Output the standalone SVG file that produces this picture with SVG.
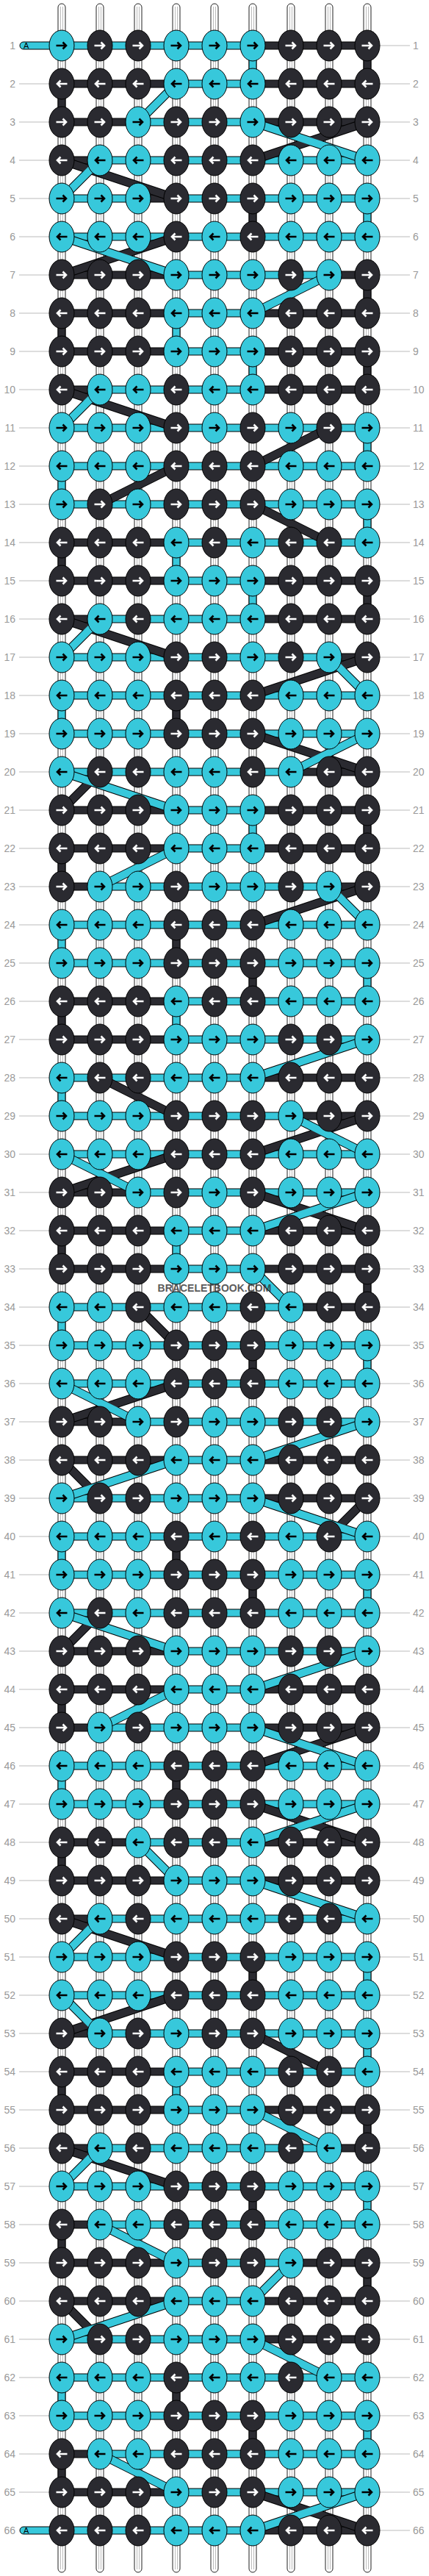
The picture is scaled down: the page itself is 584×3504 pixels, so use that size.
<svg xmlns="http://www.w3.org/2000/svg" width="584" height="3504" viewBox="0 0 584 3504">
<style>
.C{fill:#37c8db;stroke:#000;stroke-width:1}
.D{fill:#2a2a30;stroke:#000;stroke-width:1}
.ak{fill:none;stroke:#000;stroke-width:2.6}
.aw{fill:none;stroke:#fff;stroke-width:2.6}
.s{fill:#fff;stroke:#222;stroke-width:1}
.si{fill:none;stroke:#bbb;stroke-width:1}
.gl{fill:none;stroke:#bbb;stroke-width:1}
text{font-family:"Liberation Sans",Arial,sans-serif}
.lb text{font-size:14px;fill:#999}
.lb .e{text-anchor:end}
.ol{fill:none;stroke:#000;stroke-width:12}
.lC{fill:none;stroke:#37c8db;stroke-width:10}
.lD{fill:none;stroke:#2a2a30;stroke-width:10}
.ta{font-size:11px;fill:#000}
.wm{font-size:14px;font-weight:bold;fill:#333;opacity:.8;text-anchor:middle}
</style>
<defs>
<g id="CR"><ellipse rx="17" ry="21" class="C"/><path class="ak" d="M-7.5 0H6M1.5-4.5L6 0 1.5 4.5"/></g>
<g id="CL"><ellipse rx="17" ry="21" class="C"/><path class="ak" d="M7.5 0H-6M-1.5-4.5L-6 0-1.5 4.5"/></g>
<g id="DR"><ellipse rx="17" ry="21" class="D"/><path class="aw" d="M-7.5 0H6M1.5-4.5L6 0 1.5 4.5"/></g>
<g id="DL"><ellipse rx="17" ry="21" class="D"/><path class="aw" d="M7.5 0H-6M-1.5-4.5L-6 0-1.5 4.5"/></g>
</defs>
<rect width="584" height="3504" fill="#fff"/>
<g id="labels" class="lb">
<g transform="translate(0,62)"><path class="gl" d="M517 0h41"/><text x="21" y="5" class="e">1</text><text x="562" y="5">1</text></g>
<g transform="translate(0,114)"><path class="gl" d="M26 0h41M517 0h41"/><text x="21" y="5" class="e">2</text><text x="562" y="5">2</text></g>
<g transform="translate(0,166)"><path class="gl" d="M26 0h41M517 0h41"/><text x="21" y="5" class="e">3</text><text x="562" y="5">3</text></g>
<g transform="translate(0,218)"><path class="gl" d="M26 0h41M517 0h41"/><text x="21" y="5" class="e">4</text><text x="562" y="5">4</text></g>
<g transform="translate(0,270)"><path class="gl" d="M26 0h41M517 0h41"/><text x="21" y="5" class="e">5</text><text x="562" y="5">5</text></g>
<g transform="translate(0,322)"><path class="gl" d="M26 0h41M517 0h41"/><text x="21" y="5" class="e">6</text><text x="562" y="5">6</text></g>
<g transform="translate(0,374)"><path class="gl" d="M26 0h41M517 0h41"/><text x="21" y="5" class="e">7</text><text x="562" y="5">7</text></g>
<g transform="translate(0,426)"><path class="gl" d="M26 0h41M517 0h41"/><text x="21" y="5" class="e">8</text><text x="562" y="5">8</text></g>
<g transform="translate(0,478)"><path class="gl" d="M26 0h41M517 0h41"/><text x="21" y="5" class="e">9</text><text x="562" y="5">9</text></g>
<g transform="translate(0,530)"><path class="gl" d="M26 0h41M517 0h41"/><text x="21" y="5" class="e">10</text><text x="562" y="5">10</text></g>
<g transform="translate(0,582)"><path class="gl" d="M26 0h41M517 0h41"/><text x="21" y="5" class="e">11</text><text x="562" y="5">11</text></g>
<g transform="translate(0,634)"><path class="gl" d="M26 0h41M517 0h41"/><text x="21" y="5" class="e">12</text><text x="562" y="5">12</text></g>
<g transform="translate(0,686)"><path class="gl" d="M26 0h41M517 0h41"/><text x="21" y="5" class="e">13</text><text x="562" y="5">13</text></g>
<g transform="translate(0,738)"><path class="gl" d="M26 0h41M517 0h41"/><text x="21" y="5" class="e">14</text><text x="562" y="5">14</text></g>
<g transform="translate(0,790)"><path class="gl" d="M26 0h41M517 0h41"/><text x="21" y="5" class="e">15</text><text x="562" y="5">15</text></g>
<g transform="translate(0,842)"><path class="gl" d="M26 0h41M517 0h41"/><text x="21" y="5" class="e">16</text><text x="562" y="5">16</text></g>
<g transform="translate(0,894)"><path class="gl" d="M26 0h41M517 0h41"/><text x="21" y="5" class="e">17</text><text x="562" y="5">17</text></g>
<g transform="translate(0,946)"><path class="gl" d="M26 0h41M517 0h41"/><text x="21" y="5" class="e">18</text><text x="562" y="5">18</text></g>
<g transform="translate(0,998)"><path class="gl" d="M26 0h41M517 0h41"/><text x="21" y="5" class="e">19</text><text x="562" y="5">19</text></g>
<g transform="translate(0,1050)"><path class="gl" d="M26 0h41M517 0h41"/><text x="21" y="5" class="e">20</text><text x="562" y="5">20</text></g>
<g transform="translate(0,1102)"><path class="gl" d="M26 0h41M517 0h41"/><text x="21" y="5" class="e">21</text><text x="562" y="5">21</text></g>
<g transform="translate(0,1154)"><path class="gl" d="M26 0h41M517 0h41"/><text x="21" y="5" class="e">22</text><text x="562" y="5">22</text></g>
<g transform="translate(0,1206)"><path class="gl" d="M26 0h41M517 0h41"/><text x="21" y="5" class="e">23</text><text x="562" y="5">23</text></g>
<g transform="translate(0,1258)"><path class="gl" d="M26 0h41M517 0h41"/><text x="21" y="5" class="e">24</text><text x="562" y="5">24</text></g>
<g transform="translate(0,1310)"><path class="gl" d="M26 0h41M517 0h41"/><text x="21" y="5" class="e">25</text><text x="562" y="5">25</text></g>
<g transform="translate(0,1362)"><path class="gl" d="M26 0h41M517 0h41"/><text x="21" y="5" class="e">26</text><text x="562" y="5">26</text></g>
<g transform="translate(0,1414)"><path class="gl" d="M26 0h41M517 0h41"/><text x="21" y="5" class="e">27</text><text x="562" y="5">27</text></g>
<g transform="translate(0,1466)"><path class="gl" d="M26 0h41M517 0h41"/><text x="21" y="5" class="e">28</text><text x="562" y="5">28</text></g>
<g transform="translate(0,1518)"><path class="gl" d="M26 0h41M517 0h41"/><text x="21" y="5" class="e">29</text><text x="562" y="5">29</text></g>
<g transform="translate(0,1570)"><path class="gl" d="M26 0h41M517 0h41"/><text x="21" y="5" class="e">30</text><text x="562" y="5">30</text></g>
<g transform="translate(0,1622)"><path class="gl" d="M26 0h41M517 0h41"/><text x="21" y="5" class="e">31</text><text x="562" y="5">31</text></g>
<g transform="translate(0,1674)"><path class="gl" d="M26 0h41M517 0h41"/><text x="21" y="5" class="e">32</text><text x="562" y="5">32</text></g>
<g transform="translate(0,1726)"><path class="gl" d="M26 0h41M517 0h41"/><text x="21" y="5" class="e">33</text><text x="562" y="5">33</text></g>
<g transform="translate(0,1778)"><path class="gl" d="M26 0h41M517 0h41"/><text x="21" y="5" class="e">34</text><text x="562" y="5">34</text></g>
<g transform="translate(0,1830)"><path class="gl" d="M26 0h41M517 0h41"/><text x="21" y="5" class="e">35</text><text x="562" y="5">35</text></g>
<g transform="translate(0,1882)"><path class="gl" d="M26 0h41M517 0h41"/><text x="21" y="5" class="e">36</text><text x="562" y="5">36</text></g>
<g transform="translate(0,1934)"><path class="gl" d="M26 0h41M517 0h41"/><text x="21" y="5" class="e">37</text><text x="562" y="5">37</text></g>
<g transform="translate(0,1986)"><path class="gl" d="M26 0h41M517 0h41"/><text x="21" y="5" class="e">38</text><text x="562" y="5">38</text></g>
<g transform="translate(0,2038)"><path class="gl" d="M26 0h41M517 0h41"/><text x="21" y="5" class="e">39</text><text x="562" y="5">39</text></g>
<g transform="translate(0,2090)"><path class="gl" d="M26 0h41M517 0h41"/><text x="21" y="5" class="e">40</text><text x="562" y="5">40</text></g>
<g transform="translate(0,2142)"><path class="gl" d="M26 0h41M517 0h41"/><text x="21" y="5" class="e">41</text><text x="562" y="5">41</text></g>
<g transform="translate(0,2194)"><path class="gl" d="M26 0h41M517 0h41"/><text x="21" y="5" class="e">42</text><text x="562" y="5">42</text></g>
<g transform="translate(0,2246)"><path class="gl" d="M26 0h41M517 0h41"/><text x="21" y="5" class="e">43</text><text x="562" y="5">43</text></g>
<g transform="translate(0,2298)"><path class="gl" d="M26 0h41M517 0h41"/><text x="21" y="5" class="e">44</text><text x="562" y="5">44</text></g>
<g transform="translate(0,2350)"><path class="gl" d="M26 0h41M517 0h41"/><text x="21" y="5" class="e">45</text><text x="562" y="5">45</text></g>
<g transform="translate(0,2402)"><path class="gl" d="M26 0h41M517 0h41"/><text x="21" y="5" class="e">46</text><text x="562" y="5">46</text></g>
<g transform="translate(0,2454)"><path class="gl" d="M26 0h41M517 0h41"/><text x="21" y="5" class="e">47</text><text x="562" y="5">47</text></g>
<g transform="translate(0,2506)"><path class="gl" d="M26 0h41M517 0h41"/><text x="21" y="5" class="e">48</text><text x="562" y="5">48</text></g>
<g transform="translate(0,2558)"><path class="gl" d="M26 0h41M517 0h41"/><text x="21" y="5" class="e">49</text><text x="562" y="5">49</text></g>
<g transform="translate(0,2610)"><path class="gl" d="M26 0h41M517 0h41"/><text x="21" y="5" class="e">50</text><text x="562" y="5">50</text></g>
<g transform="translate(0,2662)"><path class="gl" d="M26 0h41M517 0h41"/><text x="21" y="5" class="e">51</text><text x="562" y="5">51</text></g>
<g transform="translate(0,2714)"><path class="gl" d="M26 0h41M517 0h41"/><text x="21" y="5" class="e">52</text><text x="562" y="5">52</text></g>
<g transform="translate(0,2766)"><path class="gl" d="M26 0h41M517 0h41"/><text x="21" y="5" class="e">53</text><text x="562" y="5">53</text></g>
<g transform="translate(0,2818)"><path class="gl" d="M26 0h41M517 0h41"/><text x="21" y="5" class="e">54</text><text x="562" y="5">54</text></g>
<g transform="translate(0,2870)"><path class="gl" d="M26 0h41M517 0h41"/><text x="21" y="5" class="e">55</text><text x="562" y="5">55</text></g>
<g transform="translate(0,2922)"><path class="gl" d="M26 0h41M517 0h41"/><text x="21" y="5" class="e">56</text><text x="562" y="5">56</text></g>
<g transform="translate(0,2974)"><path class="gl" d="M26 0h41M517 0h41"/><text x="21" y="5" class="e">57</text><text x="562" y="5">57</text></g>
<g transform="translate(0,3026)"><path class="gl" d="M26 0h41M517 0h41"/><text x="21" y="5" class="e">58</text><text x="562" y="5">58</text></g>
<g transform="translate(0,3078)"><path class="gl" d="M26 0h41M517 0h41"/><text x="21" y="5" class="e">59</text><text x="562" y="5">59</text></g>
<g transform="translate(0,3130)"><path class="gl" d="M26 0h41M517 0h41"/><text x="21" y="5" class="e">60</text><text x="562" y="5">60</text></g>
<g transform="translate(0,3182)"><path class="gl" d="M26 0h41M517 0h41"/><text x="21" y="5" class="e">61</text><text x="562" y="5">61</text></g>
<g transform="translate(0,3234)"><path class="gl" d="M26 0h41M517 0h41"/><text x="21" y="5" class="e">62</text><text x="562" y="5">62</text></g>
<g transform="translate(0,3286)"><path class="gl" d="M26 0h41M517 0h41"/><text x="21" y="5" class="e">63</text><text x="562" y="5">63</text></g>
<g transform="translate(0,3338)"><path class="gl" d="M26 0h41M517 0h41"/><text x="21" y="5" class="e">64</text><text x="562" y="5">64</text></g>
<g transform="translate(0,3390)"><path class="gl" d="M26 0h41M517 0h41"/><text x="21" y="5" class="e">65</text><text x="562" y="5">65</text></g>
<g transform="translate(0,3442)"><path class="gl" d="M517 0h41"/><text x="21" y="5" class="e">66</text><text x="562" y="5">66</text></g>
</g>
<g id="strings">
<rect class="s" x="79" y="5" width="10" height="3494" rx="5"/><rect class="s" x="131" y="5" width="10" height="3494" rx="5"/><rect class="s" x="183" y="5" width="10" height="3494" rx="5"/><rect class="s" x="235" y="5" width="10" height="3494" rx="5"/><rect class="s" x="287" y="5" width="10" height="3494" rx="5"/><rect class="s" x="339" y="5" width="10" height="3494" rx="5"/><rect class="s" x="391" y="5" width="10" height="3494" rx="5"/><rect class="s" x="443" y="5" width="10" height="3494" rx="5"/><rect class="s" x="495" y="5" width="10" height="3494" rx="5"/>
<path class="si" d="M82.5 9V3495M85.5 9V3495M134.5 9V3495M137.5 9V3495M186.5 9V3495M189.5 9V3495M238.5 9V3495M241.5 9V3495M290.5 9V3495M293.5 9V3495M342.5 9V3495M345.5 9V3495M394.5 9V3495M397.5 9V3495M446.5 9V3495M449.5 9V3495M498.5 9V3495M501.5 9V3495"/>
</g>
<g id="connectors">
<g id="tails">
<rect class="C" x="27" y="57" width="62" height="10" rx="5"/><text class="ta" x="32" y="66">A</text>
<rect class="C" x="27" y="3437" width="62" height="10" rx="5"/><text class="ta" x="32" y="3446">A</text>
</g>
<g id="bars">
<g transform="translate(0,62)"><rect class="C" x="84" y="-5" width="260" height="10"/><rect class="D" x="344" y="-5" width="156" height="10"/></g>
<g transform="translate(0,114)"><rect class="D" x="84" y="-5" width="156" height="10"/><rect class="C" x="240" y="-5" width="104" height="10"/><rect class="D" x="344" y="-5" width="156" height="10"/></g>
<g transform="translate(0,166)"><rect class="D" x="84" y="-5" width="104" height="10"/><rect class="C" x="188" y="-5" width="156" height="10"/><rect class="D" x="344" y="-5" width="156" height="10"/></g>
<g transform="translate(0,218)"><rect class="D" x="84" y="-5" width="52" height="10"/><rect class="C" x="136" y="-5" width="364" height="10"/></g>
<g transform="translate(0,270)"><rect class="C" x="84" y="-5" width="104" height="10"/><rect class="D" x="188" y="-5" width="52" height="10"/><rect class="C" x="240" y="-5" width="260" height="10"/></g>
<g transform="translate(0,322)"><rect class="C" x="84" y="-5" width="416" height="10"/></g>
<g transform="translate(0,374)"><rect class="D" x="84" y="-5" width="156" height="10"/><rect class="C" x="240" y="-5" width="208" height="10"/><rect class="D" x="448" y="-5" width="52" height="10"/></g>
<g transform="translate(0,426)"><rect class="D" x="84" y="-5" width="156" height="10"/><rect class="C" x="240" y="-5" width="104" height="10"/><rect class="D" x="344" y="-5" width="156" height="10"/></g>
<g transform="translate(0,478)"><rect class="D" x="84" y="-5" width="156" height="10"/><rect class="C" x="240" y="-5" width="104" height="10"/><rect class="D" x="344" y="-5" width="156" height="10"/></g>
<g transform="translate(0,530)"><rect class="D" x="84" y="-5" width="52" height="10"/><rect class="C" x="136" y="-5" width="208" height="10"/><rect class="D" x="344" y="-5" width="156" height="10"/></g>
<g transform="translate(0,582)"><rect class="C" x="84" y="-5" width="416" height="10"/></g>
<g transform="translate(0,634)"><rect class="C" x="84" y="-5" width="416" height="10"/></g>
<g transform="translate(0,686)"><rect class="C" x="84" y="-5" width="416" height="10"/></g>
<g transform="translate(0,738)"><rect class="D" x="84" y="-5" width="156" height="10"/><rect class="C" x="240" y="-5" width="260" height="10"/></g>
<g transform="translate(0,790)"><rect class="D" x="84" y="-5" width="156" height="10"/><rect class="C" x="240" y="-5" width="104" height="10"/><rect class="D" x="344" y="-5" width="156" height="10"/></g>
<g transform="translate(0,842)"><rect class="D" x="84" y="-5" width="52" height="10"/><rect class="C" x="136" y="-5" width="208" height="10"/><rect class="D" x="344" y="-5" width="156" height="10"/></g>
<g transform="translate(0,894)"><rect class="C" x="84" y="-5" width="364" height="10"/><rect class="D" x="448" y="-5" width="52" height="10"/></g>
<g transform="translate(0,946)"><rect class="C" x="84" y="-5" width="416" height="10"/></g>
<g transform="translate(0,998)"><rect class="C" x="84" y="-5" width="416" height="10"/></g>
<g transform="translate(0,1050)"><rect class="C" x="84" y="-5" width="312" height="10"/><rect class="D" x="396" y="-5" width="104" height="10"/></g>
<g transform="translate(0,1102)"><rect class="D" x="84" y="-5" width="156" height="10"/><rect class="C" x="240" y="-5" width="104" height="10"/><rect class="D" x="344" y="-5" width="156" height="10"/></g>
<g transform="translate(0,1154)"><rect class="D" x="84" y="-5" width="156" height="10"/><rect class="C" x="240" y="-5" width="104" height="10"/><rect class="D" x="344" y="-5" width="156" height="10"/></g>
<g transform="translate(0,1206)"><rect class="D" x="84" y="-5" width="52" height="10"/><rect class="C" x="136" y="-5" width="312" height="10"/><rect class="D" x="448" y="-5" width="52" height="10"/></g>
<g transform="translate(0,1258)"><rect class="C" x="84" y="-5" width="416" height="10"/></g>
<g transform="translate(0,1310)"><rect class="C" x="84" y="-5" width="416" height="10"/></g>
<g transform="translate(0,1362)"><rect class="D" x="84" y="-5" width="156" height="10"/><rect class="C" x="240" y="-5" width="260" height="10"/></g>
<g transform="translate(0,1414)"><rect class="D" x="84" y="-5" width="156" height="10"/><rect class="C" x="240" y="-5" width="260" height="10"/></g>
<g transform="translate(0,1466)"><rect class="C" x="84" y="-5" width="260" height="10"/><rect class="D" x="344" y="-5" width="156" height="10"/></g>
<g transform="translate(0,1518)"><rect class="C" x="84" y="-5" width="312" height="10"/><rect class="D" x="396" y="-5" width="104" height="10"/></g>
<g transform="translate(0,1570)"><rect class="C" x="84" y="-5" width="416" height="10"/></g>
<g transform="translate(0,1622)"><rect class="D" x="84" y="-5" width="104" height="10"/><rect class="C" x="188" y="-5" width="312" height="10"/></g>
<g transform="translate(0,1674)"><rect class="D" x="84" y="-5" width="156" height="10"/><rect class="C" x="240" y="-5" width="104" height="10"/><rect class="D" x="344" y="-5" width="156" height="10"/></g>
<g transform="translate(0,1726)"><rect class="D" x="84" y="-5" width="156" height="10"/><rect class="C" x="240" y="-5" width="104" height="10"/><rect class="D" x="344" y="-5" width="156" height="10"/></g>
<g transform="translate(0,1778)"><rect class="C" x="84" y="-5" width="312" height="10"/><rect class="D" x="396" y="-5" width="104" height="10"/></g>
<g transform="translate(0,1830)"><rect class="C" x="84" y="-5" width="416" height="10"/></g>
<g transform="translate(0,1882)"><rect class="C" x="84" y="-5" width="416" height="10"/></g>
<g transform="translate(0,1934)"><rect class="D" x="84" y="-5" width="104" height="10"/><rect class="C" x="188" y="-5" width="312" height="10"/></g>
<g transform="translate(0,1986)"><rect class="D" x="84" y="-5" width="156" height="10"/><rect class="C" x="240" y="-5" width="104" height="10"/><rect class="D" x="344" y="-5" width="156" height="10"/></g>
<g transform="translate(0,2038)"><rect class="C" x="84" y="-5" width="260" height="10"/><rect class="D" x="344" y="-5" width="156" height="10"/></g>
<g transform="translate(0,2090)"><rect class="C" x="84" y="-5" width="416" height="10"/></g>
<g transform="translate(0,2142)"><rect class="C" x="84" y="-5" width="416" height="10"/></g>
<g transform="translate(0,2194)"><rect class="C" x="84" y="-5" width="416" height="10"/></g>
<g transform="translate(0,2246)"><rect class="D" x="84" y="-5" width="156" height="10"/><rect class="C" x="240" y="-5" width="260" height="10"/></g>
<g transform="translate(0,2298)"><rect class="D" x="84" y="-5" width="156" height="10"/><rect class="C" x="240" y="-5" width="104" height="10"/><rect class="D" x="344" y="-5" width="156" height="10"/></g>
<g transform="translate(0,2350)"><rect class="D" x="84" y="-5" width="52" height="10"/><rect class="C" x="136" y="-5" width="208" height="10"/><rect class="D" x="344" y="-5" width="156" height="10"/></g>
<g transform="translate(0,2402)"><rect class="C" x="84" y="-5" width="416" height="10"/></g>
<g transform="translate(0,2454)"><rect class="C" x="84" y="-5" width="416" height="10"/></g>
<g transform="translate(0,2506)"><rect class="D" x="84" y="-5" width="104" height="10"/><rect class="C" x="188" y="-5" width="156" height="10"/><rect class="D" x="344" y="-5" width="156" height="10"/></g>
<g transform="translate(0,2558)"><rect class="D" x="84" y="-5" width="156" height="10"/><rect class="C" x="240" y="-5" width="104" height="10"/><rect class="D" x="344" y="-5" width="156" height="10"/></g>
<g transform="translate(0,2610)"><rect class="D" x="84" y="-5" width="52" height="10"/><rect class="C" x="136" y="-5" width="364" height="10"/></g>
<g transform="translate(0,2662)"><rect class="C" x="84" y="-5" width="416" height="10"/></g>
<g transform="translate(0,2714)"><rect class="C" x="84" y="-5" width="416" height="10"/></g>
<g transform="translate(0,2766)"><rect class="D" x="84" y="-5" width="52" height="10"/><rect class="C" x="136" y="-5" width="364" height="10"/></g>
<g transform="translate(0,2818)"><rect class="D" x="84" y="-5" width="156" height="10"/><rect class="C" x="240" y="-5" width="260" height="10"/></g>
<g transform="translate(0,2870)"><rect class="D" x="84" y="-5" width="156" height="10"/><rect class="C" x="240" y="-5" width="104" height="10"/><rect class="D" x="344" y="-5" width="156" height="10"/></g>
<g transform="translate(0,2922)"><rect class="D" x="84" y="-5" width="52" height="10"/><rect class="C" x="136" y="-5" width="312" height="10"/><rect class="D" x="448" y="-5" width="52" height="10"/></g>
<g transform="translate(0,2974)"><rect class="C" x="84" y="-5" width="416" height="10"/></g>
<g transform="translate(0,3026)"><rect class="D" x="84" y="-5" width="52" height="10"/><rect class="C" x="136" y="-5" width="364" height="10"/></g>
<g transform="translate(0,3078)"><rect class="D" x="84" y="-5" width="156" height="10"/><rect class="C" x="240" y="-5" width="156" height="10"/><rect class="D" x="396" y="-5" width="104" height="10"/></g>
<g transform="translate(0,3130)"><rect class="D" x="84" y="-5" width="156" height="10"/><rect class="C" x="240" y="-5" width="104" height="10"/><rect class="D" x="344" y="-5" width="156" height="10"/></g>
<g transform="translate(0,3182)"><rect class="C" x="84" y="-5" width="260" height="10"/><rect class="D" x="344" y="-5" width="156" height="10"/></g>
<g transform="translate(0,3234)"><rect class="C" x="84" y="-5" width="416" height="10"/></g>
<g transform="translate(0,3286)"><rect class="C" x="84" y="-5" width="416" height="10"/></g>
<g transform="translate(0,3338)"><rect class="D" x="84" y="-5" width="52" height="10"/><rect class="C" x="136" y="-5" width="364" height="10"/></g>
<g transform="translate(0,3390)"><rect class="D" x="84" y="-5" width="156" height="10"/><rect class="C" x="240" y="-5" width="260" height="10"/></g>
<g transform="translate(0,3442)"><rect class="C" x="84" y="-5" width="260" height="10"/><rect class="D" x="344" y="-5" width="156" height="10"/></g>
</g>
<g id="verticals">
<rect class="C" x="339" y="62" width="10" height="52"/><rect class="D" x="339" y="270" width="10" height="52"/><rect class="C" x="235" y="426" width="10" height="52"/><rect class="C" x="339" y="478" width="10" height="52"/><rect class="C" x="235" y="738" width="10" height="52"/><rect class="C" x="339" y="790" width="10" height="52"/><rect class="D" x="235" y="946" width="10" height="52"/><rect class="C" x="339" y="1102" width="10" height="52"/><rect class="D" x="235" y="1258" width="10" height="52"/><rect class="D" x="339" y="1310" width="10" height="52"/><rect class="C" x="235" y="1362" width="10" height="52"/><rect class="C" x="235" y="1674" width="10" height="52"/><rect class="D" x="339" y="1830" width="10" height="52"/><rect class="D" x="235" y="2090" width="10" height="52"/><rect class="D" x="339" y="2142" width="10" height="52"/><rect class="D" x="235" y="2402" width="10" height="52"/><rect class="D" x="339" y="2662" width="10" height="52"/><rect class="C" x="235" y="2818" width="10" height="52"/><rect class="D" x="339" y="2974" width="10" height="52"/><rect class="D" x="235" y="3234" width="10" height="52"/><rect class="D" x="339" y="3286" width="10" height="52"/>
<rect class="D" x="495" y="62" width="10" height="52"/><rect class="C" x="495" y="270" width="10" height="52"/><rect class="D" x="495" y="374" width="10" height="52"/><rect class="D" x="495" y="478" width="10" height="52"/><rect class="C" x="495" y="582" width="10" height="52"/><rect class="C" x="495" y="686" width="10" height="52"/><rect class="D" x="495" y="790" width="10" height="52"/><rect class="D" x="495" y="1102" width="10" height="52"/><rect class="C" x="495" y="1310" width="10" height="52"/><rect class="D" x="495" y="1726" width="10" height="52"/><rect class="C" x="495" y="1830" width="10" height="52"/><rect class="C" x="495" y="2142" width="10" height="52"/><rect class="C" x="495" y="2662" width="10" height="52"/><rect class="C" x="495" y="2766" width="10" height="52"/><rect class="D" x="495" y="2870" width="10" height="52"/><rect class="C" x="495" y="2974" width="10" height="52"/><rect class="D" x="495" y="3078" width="10" height="52"/><rect class="C" x="495" y="3286" width="10" height="52"/>
<rect class="D" x="79" y="114" width="10" height="52"/><rect class="D" x="79" y="426" width="10" height="52"/><rect class="C" x="79" y="634" width="10" height="52"/><rect class="D" x="79" y="738" width="10" height="52"/><rect class="C" x="79" y="946" width="10" height="52"/><rect class="D" x="79" y="1154" width="10" height="52"/><rect class="C" x="79" y="1258" width="10" height="52"/><rect class="D" x="79" y="1362" width="10" height="52"/><rect class="C" x="79" y="1466" width="10" height="52"/><rect class="D" x="79" y="1674" width="10" height="52"/><rect class="C" x="79" y="1778" width="10" height="52"/><rect class="C" x="79" y="2090" width="10" height="52"/><rect class="D" x="79" y="2298" width="10" height="52"/><rect class="C" x="79" y="2402" width="10" height="52"/><rect class="D" x="79" y="2506" width="10" height="52"/><rect class="D" x="79" y="2818" width="10" height="52"/><rect class="D" x="79" y="3026" width="10" height="52"/><rect class="C" x="79" y="3234" width="10" height="52"/><rect class="D" x="79" y="3338" width="10" height="52"/>
</g>
<g id="diagonals">
<use href="#dD" class="ol"/><use href="#dC" class="ol"/>
<g class="lD"><g id="dD">
<path d="M344 218L500 166"/><path d="M84 218L240 270"/><path d="M84 374L240 322"/><path d="M84 530L240 582"/><path d="M344 634L448 582"/><path d="M240 634L136 686"/><path d="M344 686L448 738"/><path d="M84 842L240 894"/><path d="M344 946L500 894"/><path d="M344 998L500 1050"/><path d="M136 1050L84 1102"/><path d="M344 1258L500 1206"/><path d="M136 1466L240 1518"/><path d="M344 1570L500 1518"/><path d="M84 1622L240 1570"/><path d="M344 1622L500 1674"/><path d="M188 1778L240 1830"/><path d="M84 1934L240 1882"/><path d="M84 1986L136 2038"/><path d="M448 2090L500 2038"/><path d="M136 2194L84 2246"/><path d="M344 2402L500 2350"/><path d="M344 2454L500 2506"/><path d="M84 2610L240 2662"/><path d="M84 2766L240 2714"/><path d="M344 2766L448 2818"/><path d="M84 2922L240 2974"/><path d="M84 3130L136 3182"/><path d="M344 3390L500 3442"/>
</g></g>
<g class="lC"><g id="dC">
<path d="M240 114L188 166"/><path d="M344 166L500 218"/><path d="M136 218L84 270"/><path d="M84 322L240 374"/><path d="M448 374L344 426"/><path d="M136 530L84 582"/><path d="M136 842L84 894"/><path d="M448 894L500 946"/><path d="M396 1050L500 998"/><path d="M84 1050L240 1102"/><path d="M240 1154L136 1206"/><path d="M448 1206L500 1258"/><path d="M344 1466L500 1414"/><path d="M396 1518L500 1570"/><path d="M84 1570L188 1622"/><path d="M344 1674L500 1622"/><path d="M344 1726L396 1778"/><path d="M84 1882L188 1934"/><path d="M344 1986L500 1934"/><path d="M240 1986L84 2038"/><path d="M344 2038L500 2090"/><path d="M84 2194L240 2246"/><path d="M344 2298L500 2246"/><path d="M240 2298L136 2350"/><path d="M344 2350L500 2402"/><path d="M344 2506L500 2454"/><path d="M188 2506L240 2558"/><path d="M344 2558L500 2610"/><path d="M136 2610L84 2662"/><path d="M84 2714L136 2766"/><path d="M344 2870L448 2922"/><path d="M136 2922L84 2974"/><path d="M136 3026L240 3078"/><path d="M396 3078L344 3130"/><path d="M240 3130L84 3182"/><path d="M344 3182L448 3234"/><path d="M136 3338L240 3390"/><path d="M344 3442L500 3390"/>
</g></g>
</g>
</g>
<g id="knots">
<g transform="translate(0,62)"><g id="n1-1"><use href="#CR" x="84"/></g><g id="n1-2"><use href="#DR" x="136"/></g><g id="n1-3"><use href="#DR" x="188"/></g><g id="n1-4"><use href="#CR" x="240"/></g><g id="n1-5"><use href="#CR" x="292"/></g><g id="n1-6"><use href="#CR" x="344"/></g><g id="n1-7"><use href="#DR" x="396"/></g><g id="n1-8"><use href="#DR" x="448"/></g><g id="n1-9"><use href="#DR" x="500"/></g></g>
<g transform="translate(0,114)"><g id="n2-1"><use href="#DL" x="84"/></g><g id="n2-2"><use href="#DL" x="136"/></g><g id="n2-3"><use href="#DL" x="188"/></g><g id="n2-4"><use href="#CL" x="240"/></g><g id="n2-5"><use href="#CL" x="292"/></g><g id="n2-6"><use href="#CL" x="344"/></g><g id="n2-7"><use href="#DL" x="396"/></g><g id="n2-8"><use href="#DL" x="448"/></g><g id="n2-9"><use href="#DL" x="500"/></g></g>
<g transform="translate(0,166)"><g id="n3-1"><use href="#DR" x="84"/></g><g id="n3-2"><use href="#DR" x="136"/></g><g id="n3-3"><use href="#CR" x="188"/></g><g id="n3-4"><use href="#DR" x="240"/></g><g id="n3-5"><use href="#DR" x="292"/></g><g id="n3-6"><use href="#CR" x="344"/></g><g id="n3-7"><use href="#DR" x="396"/></g><g id="n3-8"><use href="#DR" x="448"/></g><g id="n3-9"><use href="#DR" x="500"/></g></g>
<g transform="translate(0,218)"><g id="n4-1"><use href="#DL" x="84"/></g><g id="n4-2"><use href="#CL" x="136"/></g><g id="n4-3"><use href="#CL" x="188"/></g><g id="n4-4"><use href="#DL" x="240"/></g><g id="n4-5"><use href="#DL" x="292"/></g><g id="n4-6"><use href="#DL" x="344"/></g><g id="n4-7"><use href="#CL" x="396"/></g><g id="n4-8"><use href="#CL" x="448"/></g><g id="n4-9"><use href="#CL" x="500"/></g></g>
<g transform="translate(0,270)"><g id="n5-1"><use href="#CR" x="84"/></g><g id="n5-2"><use href="#CR" x="136"/></g><g id="n5-3"><use href="#CR" x="188"/></g><g id="n5-4"><use href="#DR" x="240"/></g><g id="n5-5"><use href="#DR" x="292"/></g><g id="n5-6"><use href="#DR" x="344"/></g><g id="n5-7"><use href="#CR" x="396"/></g><g id="n5-8"><use href="#CR" x="448"/></g><g id="n5-9"><use href="#CR" x="500"/></g></g>
<g transform="translate(0,322)"><g id="n6-1"><use href="#CL" x="84"/></g><g id="n6-2"><use href="#CL" x="136"/></g><g id="n6-3"><use href="#CL" x="188"/></g><g id="n6-4"><use href="#DL" x="240"/></g><g id="n6-5"><use href="#CL" x="292"/></g><g id="n6-6"><use href="#DL" x="344"/></g><g id="n6-7"><use href="#CL" x="396"/></g><g id="n6-8"><use href="#CL" x="448"/></g><g id="n6-9"><use href="#CL" x="500"/></g></g>
<g transform="translate(0,374)"><g id="n7-1"><use href="#DR" x="84"/></g><g id="n7-2"><use href="#DR" x="136"/></g><g id="n7-3"><use href="#DR" x="188"/></g><g id="n7-4"><use href="#CR" x="240"/></g><g id="n7-5"><use href="#CR" x="292"/></g><g id="n7-6"><use href="#CR" x="344"/></g><g id="n7-7"><use href="#DR" x="396"/></g><g id="n7-8"><use href="#CR" x="448"/></g><g id="n7-9"><use href="#DR" x="500"/></g></g>
<g transform="translate(0,426)"><g id="n8-1"><use href="#DL" x="84"/></g><g id="n8-2"><use href="#DL" x="136"/></g><g id="n8-3"><use href="#DL" x="188"/></g><g id="n8-4"><use href="#CL" x="240"/></g><g id="n8-5"><use href="#CL" x="292"/></g><g id="n8-6"><use href="#CL" x="344"/></g><g id="n8-7"><use href="#DL" x="396"/></g><g id="n8-8"><use href="#DL" x="448"/></g><g id="n8-9"><use href="#DL" x="500"/></g></g>
<g transform="translate(0,478)"><g id="n9-1"><use href="#DR" x="84"/></g><g id="n9-2"><use href="#DR" x="136"/></g><g id="n9-3"><use href="#DR" x="188"/></g><g id="n9-4"><use href="#CR" x="240"/></g><g id="n9-5"><use href="#CR" x="292"/></g><g id="n9-6"><use href="#CR" x="344"/></g><g id="n9-7"><use href="#DR" x="396"/></g><g id="n9-8"><use href="#DR" x="448"/></g><g id="n9-9"><use href="#DR" x="500"/></g></g>
<g transform="translate(0,530)"><g id="n10-1"><use href="#DL" x="84"/></g><g id="n10-2"><use href="#CL" x="136"/></g><g id="n10-3"><use href="#CL" x="188"/></g><g id="n10-4"><use href="#DL" x="240"/></g><g id="n10-5"><use href="#CL" x="292"/></g><g id="n10-6"><use href="#CL" x="344"/></g><g id="n10-7"><use href="#DL" x="396"/></g><g id="n10-8"><use href="#DL" x="448"/></g><g id="n10-9"><use href="#DL" x="500"/></g></g>
<g transform="translate(0,582)"><g id="n11-1"><use href="#CR" x="84"/></g><g id="n11-2"><use href="#CR" x="136"/></g><g id="n11-3"><use href="#CR" x="188"/></g><g id="n11-4"><use href="#DR" x="240"/></g><g id="n11-5"><use href="#CR" x="292"/></g><g id="n11-6"><use href="#DR" x="344"/></g><g id="n11-7"><use href="#CR" x="396"/></g><g id="n11-8"><use href="#DR" x="448"/></g><g id="n11-9"><use href="#CR" x="500"/></g></g>
<g transform="translate(0,634)"><g id="n12-1"><use href="#CL" x="84"/></g><g id="n12-2"><use href="#CL" x="136"/></g><g id="n12-3"><use href="#CL" x="188"/></g><g id="n12-4"><use href="#DL" x="240"/></g><g id="n12-5"><use href="#DL" x="292"/></g><g id="n12-6"><use href="#DL" x="344"/></g><g id="n12-7"><use href="#CL" x="396"/></g><g id="n12-8"><use href="#CL" x="448"/></g><g id="n12-9"><use href="#CL" x="500"/></g></g>
<g transform="translate(0,686)"><g id="n13-1"><use href="#CR" x="84"/></g><g id="n13-2"><use href="#DR" x="136"/></g><g id="n13-3"><use href="#CR" x="188"/></g><g id="n13-4"><use href="#DR" x="240"/></g><g id="n13-5"><use href="#DR" x="292"/></g><g id="n13-6"><use href="#DR" x="344"/></g><g id="n13-7"><use href="#CR" x="396"/></g><g id="n13-8"><use href="#CR" x="448"/></g><g id="n13-9"><use href="#CR" x="500"/></g></g>
<g transform="translate(0,738)"><g id="n14-1"><use href="#DL" x="84"/></g><g id="n14-2"><use href="#DL" x="136"/></g><g id="n14-3"><use href="#DL" x="188"/></g><g id="n14-4"><use href="#CL" x="240"/></g><g id="n14-5"><use href="#DL" x="292"/></g><g id="n14-6"><use href="#CL" x="344"/></g><g id="n14-7"><use href="#DL" x="396"/></g><g id="n14-8"><use href="#DL" x="448"/></g><g id="n14-9"><use href="#CL" x="500"/></g></g>
<g transform="translate(0,790)"><g id="n15-1"><use href="#DR" x="84"/></g><g id="n15-2"><use href="#DR" x="136"/></g><g id="n15-3"><use href="#DR" x="188"/></g><g id="n15-4"><use href="#CR" x="240"/></g><g id="n15-5"><use href="#CR" x="292"/></g><g id="n15-6"><use href="#CR" x="344"/></g><g id="n15-7"><use href="#DR" x="396"/></g><g id="n15-8"><use href="#DR" x="448"/></g><g id="n15-9"><use href="#DR" x="500"/></g></g>
<g transform="translate(0,842)"><g id="n16-1"><use href="#DL" x="84"/></g><g id="n16-2"><use href="#CL" x="136"/></g><g id="n16-3"><use href="#DL" x="188"/></g><g id="n16-4"><use href="#CL" x="240"/></g><g id="n16-5"><use href="#CL" x="292"/></g><g id="n16-6"><use href="#CL" x="344"/></g><g id="n16-7"><use href="#DL" x="396"/></g><g id="n16-8"><use href="#DL" x="448"/></g><g id="n16-9"><use href="#DL" x="500"/></g></g>
<g transform="translate(0,894)"><g id="n17-1"><use href="#CR" x="84"/></g><g id="n17-2"><use href="#CR" x="136"/></g><g id="n17-3"><use href="#CR" x="188"/></g><g id="n17-4"><use href="#DR" x="240"/></g><g id="n17-5"><use href="#DR" x="292"/></g><g id="n17-6"><use href="#CR" x="344"/></g><g id="n17-7"><use href="#DR" x="396"/></g><g id="n17-8"><use href="#CR" x="448"/></g><g id="n17-9"><use href="#DR" x="500"/></g></g>
<g transform="translate(0,946)"><g id="n18-1"><use href="#CL" x="84"/></g><g id="n18-2"><use href="#CL" x="136"/></g><g id="n18-3"><use href="#CL" x="188"/></g><g id="n18-4"><use href="#DL" x="240"/></g><g id="n18-5"><use href="#DL" x="292"/></g><g id="n18-6"><use href="#DL" x="344"/></g><g id="n18-7"><use href="#CL" x="396"/></g><g id="n18-8"><use href="#CL" x="448"/></g><g id="n18-9"><use href="#CL" x="500"/></g></g>
<g transform="translate(0,998)"><g id="n19-1"><use href="#CR" x="84"/></g><g id="n19-2"><use href="#CR" x="136"/></g><g id="n19-3"><use href="#CR" x="188"/></g><g id="n19-4"><use href="#DR" x="240"/></g><g id="n19-5"><use href="#DR" x="292"/></g><g id="n19-6"><use href="#DR" x="344"/></g><g id="n19-7"><use href="#CR" x="396"/></g><g id="n19-8"><use href="#CR" x="448"/></g><g id="n19-9"><use href="#CR" x="500"/></g></g>
<g transform="translate(0,1050)"><g id="n20-1"><use href="#CL" x="84"/></g><g id="n20-2"><use href="#DL" x="136"/></g><g id="n20-3"><use href="#DL" x="188"/></g><g id="n20-4"><use href="#CL" x="240"/></g><g id="n20-5"><use href="#CL" x="292"/></g><g id="n20-6"><use href="#DL" x="344"/></g><g id="n20-7"><use href="#CL" x="396"/></g><g id="n20-8"><use href="#DL" x="448"/></g><g id="n20-9"><use href="#DL" x="500"/></g></g>
<g transform="translate(0,1102)"><g id="n21-1"><use href="#DR" x="84"/></g><g id="n21-2"><use href="#DR" x="136"/></g><g id="n21-3"><use href="#DR" x="188"/></g><g id="n21-4"><use href="#CR" x="240"/></g><g id="n21-5"><use href="#CR" x="292"/></g><g id="n21-6"><use href="#CR" x="344"/></g><g id="n21-7"><use href="#DR" x="396"/></g><g id="n21-8"><use href="#DR" x="448"/></g><g id="n21-9"><use href="#DR" x="500"/></g></g>
<g transform="translate(0,1154)"><g id="n22-1"><use href="#DL" x="84"/></g><g id="n22-2"><use href="#DL" x="136"/></g><g id="n22-3"><use href="#DL" x="188"/></g><g id="n22-4"><use href="#CL" x="240"/></g><g id="n22-5"><use href="#CL" x="292"/></g><g id="n22-6"><use href="#CL" x="344"/></g><g id="n22-7"><use href="#DL" x="396"/></g><g id="n22-8"><use href="#DL" x="448"/></g><g id="n22-9"><use href="#DL" x="500"/></g></g>
<g transform="translate(0,1206)"><g id="n23-1"><use href="#DR" x="84"/></g><g id="n23-2"><use href="#CR" x="136"/></g><g id="n23-3"><use href="#CR" x="188"/></g><g id="n23-4"><use href="#DR" x="240"/></g><g id="n23-5"><use href="#CR" x="292"/></g><g id="n23-6"><use href="#CR" x="344"/></g><g id="n23-7"><use href="#DR" x="396"/></g><g id="n23-8"><use href="#CR" x="448"/></g><g id="n23-9"><use href="#DR" x="500"/></g></g>
<g transform="translate(0,1258)"><g id="n24-1"><use href="#CL" x="84"/></g><g id="n24-2"><use href="#CL" x="136"/></g><g id="n24-3"><use href="#CL" x="188"/></g><g id="n24-4"><use href="#DL" x="240"/></g><g id="n24-5"><use href="#DL" x="292"/></g><g id="n24-6"><use href="#DL" x="344"/></g><g id="n24-7"><use href="#CL" x="396"/></g><g id="n24-8"><use href="#CL" x="448"/></g><g id="n24-9"><use href="#CL" x="500"/></g></g>
<g transform="translate(0,1310)"><g id="n25-1"><use href="#CR" x="84"/></g><g id="n25-2"><use href="#CR" x="136"/></g><g id="n25-3"><use href="#CR" x="188"/></g><g id="n25-4"><use href="#DR" x="240"/></g><g id="n25-5"><use href="#DR" x="292"/></g><g id="n25-6"><use href="#DR" x="344"/></g><g id="n25-7"><use href="#CR" x="396"/></g><g id="n25-8"><use href="#CR" x="448"/></g><g id="n25-9"><use href="#CR" x="500"/></g></g>
<g transform="translate(0,1362)"><g id="n26-1"><use href="#DL" x="84"/></g><g id="n26-2"><use href="#DL" x="136"/></g><g id="n26-3"><use href="#DL" x="188"/></g><g id="n26-4"><use href="#CL" x="240"/></g><g id="n26-5"><use href="#DL" x="292"/></g><g id="n26-6"><use href="#DL" x="344"/></g><g id="n26-7"><use href="#CL" x="396"/></g><g id="n26-8"><use href="#CL" x="448"/></g><g id="n26-9"><use href="#CL" x="500"/></g></g>
<g transform="translate(0,1414)"><g id="n27-1"><use href="#DR" x="84"/></g><g id="n27-2"><use href="#DR" x="136"/></g><g id="n27-3"><use href="#DR" x="188"/></g><g id="n27-4"><use href="#CR" x="240"/></g><g id="n27-5"><use href="#CR" x="292"/></g><g id="n27-6"><use href="#CR" x="344"/></g><g id="n27-7"><use href="#DR" x="396"/></g><g id="n27-8"><use href="#DR" x="448"/></g><g id="n27-9"><use href="#CR" x="500"/></g></g>
<g transform="translate(0,1466)"><g id="n28-1"><use href="#CL" x="84"/></g><g id="n28-2"><use href="#DL" x="136"/></g><g id="n28-3"><use href="#DL" x="188"/></g><g id="n28-4"><use href="#CL" x="240"/></g><g id="n28-5"><use href="#CL" x="292"/></g><g id="n28-6"><use href="#CL" x="344"/></g><g id="n28-7"><use href="#DL" x="396"/></g><g id="n28-8"><use href="#DL" x="448"/></g><g id="n28-9"><use href="#DL" x="500"/></g></g>
<g transform="translate(0,1518)"><g id="n29-1"><use href="#CR" x="84"/></g><g id="n29-2"><use href="#CR" x="136"/></g><g id="n29-3"><use href="#CR" x="188"/></g><g id="n29-4"><use href="#DR" x="240"/></g><g id="n29-5"><use href="#DR" x="292"/></g><g id="n29-6"><use href="#DR" x="344"/></g><g id="n29-7"><use href="#CR" x="396"/></g><g id="n29-8"><use href="#DR" x="448"/></g><g id="n29-9"><use href="#DR" x="500"/></g></g>
<g transform="translate(0,1570)"><g id="n30-1"><use href="#CL" x="84"/></g><g id="n30-2"><use href="#CL" x="136"/></g><g id="n30-3"><use href="#CL" x="188"/></g><g id="n30-4"><use href="#DL" x="240"/></g><g id="n30-5"><use href="#DL" x="292"/></g><g id="n30-6"><use href="#DL" x="344"/></g><g id="n30-7"><use href="#CL" x="396"/></g><g id="n30-8"><use href="#CL" x="448"/></g><g id="n30-9"><use href="#CL" x="500"/></g></g>
<g transform="translate(0,1622)"><g id="n31-1"><use href="#DR" x="84"/></g><g id="n31-2"><use href="#DR" x="136"/></g><g id="n31-3"><use href="#CR" x="188"/></g><g id="n31-4"><use href="#DR" x="240"/></g><g id="n31-5"><use href="#CR" x="292"/></g><g id="n31-6"><use href="#DR" x="344"/></g><g id="n31-7"><use href="#CR" x="396"/></g><g id="n31-8"><use href="#CR" x="448"/></g><g id="n31-9"><use href="#CR" x="500"/></g></g>
<g transform="translate(0,1674)"><g id="n32-1"><use href="#DL" x="84"/></g><g id="n32-2"><use href="#DL" x="136"/></g><g id="n32-3"><use href="#DL" x="188"/></g><g id="n32-4"><use href="#CL" x="240"/></g><g id="n32-5"><use href="#CL" x="292"/></g><g id="n32-6"><use href="#CL" x="344"/></g><g id="n32-7"><use href="#DL" x="396"/></g><g id="n32-8"><use href="#DL" x="448"/></g><g id="n32-9"><use href="#DL" x="500"/></g></g>
<g transform="translate(0,1726)"><g id="n33-1"><use href="#DR" x="84"/></g><g id="n33-2"><use href="#DR" x="136"/></g><g id="n33-3"><use href="#DR" x="188"/></g><g id="n33-4"><use href="#CR" x="240"/></g><g id="n33-5"><use href="#CR" x="292"/></g><g id="n33-6"><use href="#CR" x="344"/></g><g id="n33-7"><use href="#DR" x="396"/></g><g id="n33-8"><use href="#DR" x="448"/></g><g id="n33-9"><use href="#DR" x="500"/></g></g>
<g transform="translate(0,1778)"><g id="n34-1"><use href="#CL" x="84"/></g><g id="n34-2"><use href="#CL" x="136"/></g><g id="n34-3"><use href="#DL" x="188"/></g><g id="n34-4"><use href="#CL" x="240"/></g><g id="n34-5"><use href="#CL" x="292"/></g><g id="n34-6"><use href="#DL" x="344"/></g><g id="n34-7"><use href="#CL" x="396"/></g><g id="n34-8"><use href="#DL" x="448"/></g><g id="n34-9"><use href="#DL" x="500"/></g></g>
<g transform="translate(0,1830)"><g id="n35-1"><use href="#CR" x="84"/></g><g id="n35-2"><use href="#CR" x="136"/></g><g id="n35-3"><use href="#CR" x="188"/></g><g id="n35-4"><use href="#DR" x="240"/></g><g id="n35-5"><use href="#DR" x="292"/></g><g id="n35-6"><use href="#DR" x="344"/></g><g id="n35-7"><use href="#CR" x="396"/></g><g id="n35-8"><use href="#CR" x="448"/></g><g id="n35-9"><use href="#CR" x="500"/></g></g>
<g transform="translate(0,1882)"><g id="n36-1"><use href="#CL" x="84"/></g><g id="n36-2"><use href="#CL" x="136"/></g><g id="n36-3"><use href="#CL" x="188"/></g><g id="n36-4"><use href="#DL" x="240"/></g><g id="n36-5"><use href="#DL" x="292"/></g><g id="n36-6"><use href="#DL" x="344"/></g><g id="n36-7"><use href="#CL" x="396"/></g><g id="n36-8"><use href="#CL" x="448"/></g><g id="n36-9"><use href="#CL" x="500"/></g></g>
<g transform="translate(0,1934)"><g id="n37-1"><use href="#DR" x="84"/></g><g id="n37-2"><use href="#DR" x="136"/></g><g id="n37-3"><use href="#CR" x="188"/></g><g id="n37-4"><use href="#DR" x="240"/></g><g id="n37-5"><use href="#CR" x="292"/></g><g id="n37-6"><use href="#CR" x="344"/></g><g id="n37-7"><use href="#DR" x="396"/></g><g id="n37-8"><use href="#DR" x="448"/></g><g id="n37-9"><use href="#CR" x="500"/></g></g>
<g transform="translate(0,1986)"><g id="n38-1"><use href="#DL" x="84"/></g><g id="n38-2"><use href="#DL" x="136"/></g><g id="n38-3"><use href="#DL" x="188"/></g><g id="n38-4"><use href="#CL" x="240"/></g><g id="n38-5"><use href="#CL" x="292"/></g><g id="n38-6"><use href="#CL" x="344"/></g><g id="n38-7"><use href="#DL" x="396"/></g><g id="n38-8"><use href="#DL" x="448"/></g><g id="n38-9"><use href="#DL" x="500"/></g></g>
<g transform="translate(0,2038)"><g id="n39-1"><use href="#CR" x="84"/></g><g id="n39-2"><use href="#DR" x="136"/></g><g id="n39-3"><use href="#DR" x="188"/></g><g id="n39-4"><use href="#CR" x="240"/></g><g id="n39-5"><use href="#CR" x="292"/></g><g id="n39-6"><use href="#CR" x="344"/></g><g id="n39-7"><use href="#DR" x="396"/></g><g id="n39-8"><use href="#DR" x="448"/></g><g id="n39-9"><use href="#DR" x="500"/></g></g>
<g transform="translate(0,2090)"><g id="n40-1"><use href="#CL" x="84"/></g><g id="n40-2"><use href="#CL" x="136"/></g><g id="n40-3"><use href="#CL" x="188"/></g><g id="n40-4"><use href="#DL" x="240"/></g><g id="n40-5"><use href="#CL" x="292"/></g><g id="n40-6"><use href="#DL" x="344"/></g><g id="n40-7"><use href="#CL" x="396"/></g><g id="n40-8"><use href="#DL" x="448"/></g><g id="n40-9"><use href="#CL" x="500"/></g></g>
<g transform="translate(0,2142)"><g id="n41-1"><use href="#CR" x="84"/></g><g id="n41-2"><use href="#CR" x="136"/></g><g id="n41-3"><use href="#CR" x="188"/></g><g id="n41-4"><use href="#DR" x="240"/></g><g id="n41-5"><use href="#DR" x="292"/></g><g id="n41-6"><use href="#DR" x="344"/></g><g id="n41-7"><use href="#CR" x="396"/></g><g id="n41-8"><use href="#CR" x="448"/></g><g id="n41-9"><use href="#CR" x="500"/></g></g>
<g transform="translate(0,2194)"><g id="n42-1"><use href="#CL" x="84"/></g><g id="n42-2"><use href="#DL" x="136"/></g><g id="n42-3"><use href="#CL" x="188"/></g><g id="n42-4"><use href="#DL" x="240"/></g><g id="n42-5"><use href="#DL" x="292"/></g><g id="n42-6"><use href="#DL" x="344"/></g><g id="n42-7"><use href="#CL" x="396"/></g><g id="n42-8"><use href="#CL" x="448"/></g><g id="n42-9"><use href="#CL" x="500"/></g></g>
<g transform="translate(0,2246)"><g id="n43-1"><use href="#DR" x="84"/></g><g id="n43-2"><use href="#DR" x="136"/></g><g id="n43-3"><use href="#DR" x="188"/></g><g id="n43-4"><use href="#CR" x="240"/></g><g id="n43-5"><use href="#CR" x="292"/></g><g id="n43-6"><use href="#CR" x="344"/></g><g id="n43-7"><use href="#DR" x="396"/></g><g id="n43-8"><use href="#DR" x="448"/></g><g id="n43-9"><use href="#CR" x="500"/></g></g>
<g transform="translate(0,2298)"><g id="n44-1"><use href="#DL" x="84"/></g><g id="n44-2"><use href="#DL" x="136"/></g><g id="n44-3"><use href="#DL" x="188"/></g><g id="n44-4"><use href="#CL" x="240"/></g><g id="n44-5"><use href="#CL" x="292"/></g><g id="n44-6"><use href="#CL" x="344"/></g><g id="n44-7"><use href="#DL" x="396"/></g><g id="n44-8"><use href="#DL" x="448"/></g><g id="n44-9"><use href="#DL" x="500"/></g></g>
<g transform="translate(0,2350)"><g id="n45-1"><use href="#DR" x="84"/></g><g id="n45-2"><use href="#CR" x="136"/></g><g id="n45-3"><use href="#DR" x="188"/></g><g id="n45-4"><use href="#CR" x="240"/></g><g id="n45-5"><use href="#CR" x="292"/></g><g id="n45-6"><use href="#CR" x="344"/></g><g id="n45-7"><use href="#DR" x="396"/></g><g id="n45-8"><use href="#DR" x="448"/></g><g id="n45-9"><use href="#DR" x="500"/></g></g>
<g transform="translate(0,2402)"><g id="n46-1"><use href="#CL" x="84"/></g><g id="n46-2"><use href="#CL" x="136"/></g><g id="n46-3"><use href="#CL" x="188"/></g><g id="n46-4"><use href="#DL" x="240"/></g><g id="n46-5"><use href="#DL" x="292"/></g><g id="n46-6"><use href="#DL" x="344"/></g><g id="n46-7"><use href="#CL" x="396"/></g><g id="n46-8"><use href="#CL" x="448"/></g><g id="n46-9"><use href="#CL" x="500"/></g></g>
<g transform="translate(0,2454)"><g id="n47-1"><use href="#CR" x="84"/></g><g id="n47-2"><use href="#CR" x="136"/></g><g id="n47-3"><use href="#CR" x="188"/></g><g id="n47-4"><use href="#DR" x="240"/></g><g id="n47-5"><use href="#DR" x="292"/></g><g id="n47-6"><use href="#DR" x="344"/></g><g id="n47-7"><use href="#CR" x="396"/></g><g id="n47-8"><use href="#CR" x="448"/></g><g id="n47-9"><use href="#CR" x="500"/></g></g>
<g transform="translate(0,2506)"><g id="n48-1"><use href="#DL" x="84"/></g><g id="n48-2"><use href="#DL" x="136"/></g><g id="n48-3"><use href="#CL" x="188"/></g><g id="n48-4"><use href="#DL" x="240"/></g><g id="n48-5"><use href="#DL" x="292"/></g><g id="n48-6"><use href="#CL" x="344"/></g><g id="n48-7"><use href="#DL" x="396"/></g><g id="n48-8"><use href="#DL" x="448"/></g><g id="n48-9"><use href="#DL" x="500"/></g></g>
<g transform="translate(0,2558)"><g id="n49-1"><use href="#DR" x="84"/></g><g id="n49-2"><use href="#DR" x="136"/></g><g id="n49-3"><use href="#DR" x="188"/></g><g id="n49-4"><use href="#CR" x="240"/></g><g id="n49-5"><use href="#CR" x="292"/></g><g id="n49-6"><use href="#CR" x="344"/></g><g id="n49-7"><use href="#DR" x="396"/></g><g id="n49-8"><use href="#DR" x="448"/></g><g id="n49-9"><use href="#DR" x="500"/></g></g>
<g transform="translate(0,2610)"><g id="n50-1"><use href="#DL" x="84"/></g><g id="n50-2"><use href="#CL" x="136"/></g><g id="n50-3"><use href="#DL" x="188"/></g><g id="n50-4"><use href="#CL" x="240"/></g><g id="n50-5"><use href="#CL" x="292"/></g><g id="n50-6"><use href="#CL" x="344"/></g><g id="n50-7"><use href="#DL" x="396"/></g><g id="n50-8"><use href="#DL" x="448"/></g><g id="n50-9"><use href="#CL" x="500"/></g></g>
<g transform="translate(0,2662)"><g id="n51-1"><use href="#CR" x="84"/></g><g id="n51-2"><use href="#CR" x="136"/></g><g id="n51-3"><use href="#CR" x="188"/></g><g id="n51-4"><use href="#DR" x="240"/></g><g id="n51-5"><use href="#DR" x="292"/></g><g id="n51-6"><use href="#DR" x="344"/></g><g id="n51-7"><use href="#CR" x="396"/></g><g id="n51-8"><use href="#CR" x="448"/></g><g id="n51-9"><use href="#CR" x="500"/></g></g>
<g transform="translate(0,2714)"><g id="n52-1"><use href="#CL" x="84"/></g><g id="n52-2"><use href="#CL" x="136"/></g><g id="n52-3"><use href="#CL" x="188"/></g><g id="n52-4"><use href="#DL" x="240"/></g><g id="n52-5"><use href="#DL" x="292"/></g><g id="n52-6"><use href="#DL" x="344"/></g><g id="n52-7"><use href="#CL" x="396"/></g><g id="n52-8"><use href="#CL" x="448"/></g><g id="n52-9"><use href="#CL" x="500"/></g></g>
<g transform="translate(0,2766)"><g id="n53-1"><use href="#DR" x="84"/></g><g id="n53-2"><use href="#CR" x="136"/></g><g id="n53-3"><use href="#DR" x="188"/></g><g id="n53-4"><use href="#CR" x="240"/></g><g id="n53-5"><use href="#DR" x="292"/></g><g id="n53-6"><use href="#DR" x="344"/></g><g id="n53-7"><use href="#CR" x="396"/></g><g id="n53-8"><use href="#CR" x="448"/></g><g id="n53-9"><use href="#CR" x="500"/></g></g>
<g transform="translate(0,2818)"><g id="n54-1"><use href="#DL" x="84"/></g><g id="n54-2"><use href="#DL" x="136"/></g><g id="n54-3"><use href="#DL" x="188"/></g><g id="n54-4"><use href="#CL" x="240"/></g><g id="n54-5"><use href="#CL" x="292"/></g><g id="n54-6"><use href="#CL" x="344"/></g><g id="n54-7"><use href="#DL" x="396"/></g><g id="n54-8"><use href="#DL" x="448"/></g><g id="n54-9"><use href="#CL" x="500"/></g></g>
<g transform="translate(0,2870)"><g id="n55-1"><use href="#DR" x="84"/></g><g id="n55-2"><use href="#DR" x="136"/></g><g id="n55-3"><use href="#DR" x="188"/></g><g id="n55-4"><use href="#CR" x="240"/></g><g id="n55-5"><use href="#CR" x="292"/></g><g id="n55-6"><use href="#CR" x="344"/></g><g id="n55-7"><use href="#DR" x="396"/></g><g id="n55-8"><use href="#DR" x="448"/></g><g id="n55-9"><use href="#DR" x="500"/></g></g>
<g transform="translate(0,2922)"><g id="n56-1"><use href="#DL" x="84"/></g><g id="n56-2"><use href="#CL" x="136"/></g><g id="n56-3"><use href="#DL" x="188"/></g><g id="n56-4"><use href="#CL" x="240"/></g><g id="n56-5"><use href="#CL" x="292"/></g><g id="n56-6"><use href="#CL" x="344"/></g><g id="n56-7"><use href="#DL" x="396"/></g><g id="n56-8"><use href="#CL" x="448"/></g><g id="n56-9"><use href="#DL" x="500"/></g></g>
<g transform="translate(0,2974)"><g id="n57-1"><use href="#CR" x="84"/></g><g id="n57-2"><use href="#CR" x="136"/></g><g id="n57-3"><use href="#CR" x="188"/></g><g id="n57-4"><use href="#DR" x="240"/></g><g id="n57-5"><use href="#DR" x="292"/></g><g id="n57-6"><use href="#DR" x="344"/></g><g id="n57-7"><use href="#CR" x="396"/></g><g id="n57-8"><use href="#CR" x="448"/></g><g id="n57-9"><use href="#CR" x="500"/></g></g>
<g transform="translate(0,3026)"><g id="n58-1"><use href="#DL" x="84"/></g><g id="n58-2"><use href="#CL" x="136"/></g><g id="n58-3"><use href="#CL" x="188"/></g><g id="n58-4"><use href="#DL" x="240"/></g><g id="n58-5"><use href="#DL" x="292"/></g><g id="n58-6"><use href="#DL" x="344"/></g><g id="n58-7"><use href="#CL" x="396"/></g><g id="n58-8"><use href="#CL" x="448"/></g><g id="n58-9"><use href="#CL" x="500"/></g></g>
<g transform="translate(0,3078)"><g id="n59-1"><use href="#DR" x="84"/></g><g id="n59-2"><use href="#DR" x="136"/></g><g id="n59-3"><use href="#DR" x="188"/></g><g id="n59-4"><use href="#CR" x="240"/></g><g id="n59-5"><use href="#DR" x="292"/></g><g id="n59-6"><use href="#DR" x="344"/></g><g id="n59-7"><use href="#CR" x="396"/></g><g id="n59-8"><use href="#DR" x="448"/></g><g id="n59-9"><use href="#DR" x="500"/></g></g>
<g transform="translate(0,3130)"><g id="n60-1"><use href="#DL" x="84"/></g><g id="n60-2"><use href="#DL" x="136"/></g><g id="n60-3"><use href="#DL" x="188"/></g><g id="n60-4"><use href="#CL" x="240"/></g><g id="n60-5"><use href="#CL" x="292"/></g><g id="n60-6"><use href="#CL" x="344"/></g><g id="n60-7"><use href="#DL" x="396"/></g><g id="n60-8"><use href="#DL" x="448"/></g><g id="n60-9"><use href="#DL" x="500"/></g></g>
<g transform="translate(0,3182)"><g id="n61-1"><use href="#CR" x="84"/></g><g id="n61-2"><use href="#DR" x="136"/></g><g id="n61-3"><use href="#DR" x="188"/></g><g id="n61-4"><use href="#CR" x="240"/></g><g id="n61-5"><use href="#CR" x="292"/></g><g id="n61-6"><use href="#CR" x="344"/></g><g id="n61-7"><use href="#DR" x="396"/></g><g id="n61-8"><use href="#DR" x="448"/></g><g id="n61-9"><use href="#DR" x="500"/></g></g>
<g transform="translate(0,3234)"><g id="n62-1"><use href="#CL" x="84"/></g><g id="n62-2"><use href="#CL" x="136"/></g><g id="n62-3"><use href="#CL" x="188"/></g><g id="n62-4"><use href="#DL" x="240"/></g><g id="n62-5"><use href="#CL" x="292"/></g><g id="n62-6"><use href="#CL" x="344"/></g><g id="n62-7"><use href="#DL" x="396"/></g><g id="n62-8"><use href="#CL" x="448"/></g><g id="n62-9"><use href="#CL" x="500"/></g></g>
<g transform="translate(0,3286)"><g id="n63-1"><use href="#CR" x="84"/></g><g id="n63-2"><use href="#CR" x="136"/></g><g id="n63-3"><use href="#CR" x="188"/></g><g id="n63-4"><use href="#DR" x="240"/></g><g id="n63-5"><use href="#DR" x="292"/></g><g id="n63-6"><use href="#DR" x="344"/></g><g id="n63-7"><use href="#CR" x="396"/></g><g id="n63-8"><use href="#CR" x="448"/></g><g id="n63-9"><use href="#CR" x="500"/></g></g>
<g transform="translate(0,3338)"><g id="n64-1"><use href="#DL" x="84"/></g><g id="n64-2"><use href="#CL" x="136"/></g><g id="n64-3"><use href="#CL" x="188"/></g><g id="n64-4"><use href="#DL" x="240"/></g><g id="n64-5"><use href="#DL" x="292"/></g><g id="n64-6"><use href="#DL" x="344"/></g><g id="n64-7"><use href="#CL" x="396"/></g><g id="n64-8"><use href="#CL" x="448"/></g><g id="n64-9"><use href="#CL" x="500"/></g></g>
<g transform="translate(0,3390)"><g id="n65-1"><use href="#DR" x="84"/></g><g id="n65-2"><use href="#DR" x="136"/></g><g id="n65-3"><use href="#DR" x="188"/></g><g id="n65-4"><use href="#CR" x="240"/></g><g id="n65-5"><use href="#DR" x="292"/></g><g id="n65-6"><use href="#DR" x="344"/></g><g id="n65-7"><use href="#CR" x="396"/></g><g id="n65-8"><use href="#CR" x="448"/></g><g id="n65-9"><use href="#CR" x="500"/></g></g>
<g transform="translate(0,3442)"><g id="n66-1"><use href="#DL" x="84"/></g><g id="n66-2"><use href="#DL" x="136"/></g><g id="n66-3"><use href="#DL" x="188"/></g><g id="n66-4"><use href="#CL" x="240"/></g><g id="n66-5"><use href="#CL" x="292"/></g><g id="n66-6"><use href="#CL" x="344"/></g><g id="n66-7"><use href="#DL" x="396"/></g><g id="n66-8"><use href="#DL" x="448"/></g><g id="n66-9"><use href="#DL" x="500"/></g></g>
</g>
<text class="wm" x="292" y="1757">BRACELETBOOK.COM</text>
</svg>
